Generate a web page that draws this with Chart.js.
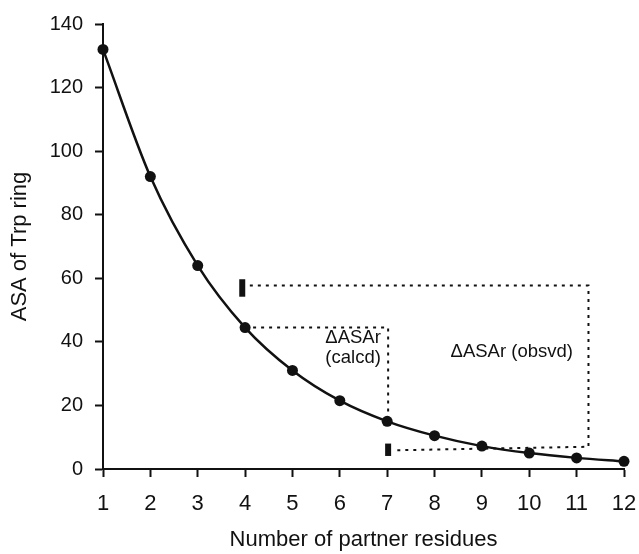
<!DOCTYPE html>
<html>
<head>
<meta charset="utf-8">
<script src="https://cdn.jsdelivr.net/npm/chart.js@4"></script>
<style>
  html, body { margin: 0; padding: 0; background: #fff; }
  #wrap { width: 639px; height: 554px; }
</style>
</head>
<body>
<div id="wrap"><canvas id="asaChart" width="639" height="554"></canvas></div>
<script>
// Données
const residues = [1, 2, 3, 4, 5, 6, 7, 8, 9, 10, 11, 12];
const asaValues = [132, 92, 64, 44.5, 31, 21.5, 15, 10.5, 7.2, 5, 3.5, 2.4];
const yTicks = [0, 20, 40, 60, 80, 100, 120, 140];

// Crochets pointillés (ΔASAr calculé / observé)
const calcdX = [4, 7.02, 7.02];
const calcdY = [44.5, 44.5, 15];
const obsvdX = [4.1, 11.25, 11.25, 7.2];
const obsvdY = [57.7, 57.7, 7, 5.9];

// Petits repères épais aux extrémités
const markTopX = [3.94, 3.94];
const markTopY = [54.2, 59.7];
const markLowX = [7.02, 7.02];
const markLowY = [4.1, 8.0];

// Étiquettes
const noteTexts = [['\u0394ASAr', '(calcd)'], ['\u0394ASAr (obsvd)']];
const noteX = [6.28, 9.63];
const noteY = [38, 36.7];

const FONT = '"Liberation Sans", Arial, sans-serif';
const INK = '#111';

function pts(xs, ys) {
  return xs.map(function (x, i) { return { x: x, y: ys[i] }; });
}

const notesPlugin = {
  id: 'notes',
  afterDatasetsDraw: function (chart) {
    const c = chart.ctx;
    const sx = chart.scales.x, sy = chart.scales.y;
    c.save();
    c.fillStyle = INK;
    c.font = '18.5px ' + FONT;
    c.textAlign = 'center';
    c.textBaseline = 'middle';
    noteTexts.forEach(function (lines, i) {
      const px = sx.getPixelForValue(noteX[i]);
      const py = sy.getPixelForValue(noteY[i]);
      const lh = 20;
      const y0 = py - (lines.length - 1) * lh / 2;
      lines.forEach(function (t, k) { c.fillText(t, px, y0 + k * lh); });
    });
    c.restore();
  }
};

const dotted = {
  borderColor: INK, borderWidth: 2, borderDash: [3, 5],
  pointRadius: 0, fill: false, tension: 0, clip: false
};
const thick = {
  borderColor: INK, borderWidth: 6, borderCapStyle: 'butt',
  pointRadius: 0, fill: false, tension: 0, clip: false
};

new Chart(document.getElementById('asaChart'), {
  type: 'line',
  data: {
    datasets: [
      Object.assign({ data: pts(calcdX, calcdY) }, dotted),
      Object.assign({ data: pts(obsvdX, obsvdY) }, dotted),
      Object.assign({ data: pts(markTopX, markTopY) }, thick),
      Object.assign({ data: pts(markLowX, markLowY) }, thick),
      {
        label: 'ASA',
        data: pts(residues, asaValues),
        borderColor: INK,
        backgroundColor: INK,
        borderWidth: 2.5,
        pointRadius: 5.5,
        pointBackgroundColor: INK,
        pointBorderWidth: 0,
        cubicInterpolationMode: 'monotone',
        fill: false,
        clip: false
      }
    ]
  },
  options: {
    responsive: false,
    animation: false,
    layout: { padding: { top: 22, right: 3, left: 0, bottom: 0 } },
    plugins: {
      legend: { display: false },
      tooltip: { enabled: false }
    },
    scales: {
      x: {
        type: 'linear',
        min: 1,
        max: 12,
        afterBuildTicks: function (s) { s.ticks = residues.map(function (v) { return { value: v }; }); },
        afterFit: function (s) {
          s.height = 554 - 469;
          s.paddingLeft = 0;
          s.paddingRight = 15;
        },
        grid: { drawOnChartArea: false, drawTicks: true, tickLength: 8, tickWidth: 2, tickColor: INK },
        border: { color: INK, width: 2 },
        ticks: { color: INK, font: { family: FONT, size: 22 }, padding: 14, maxRotation: 0 },
        title: {
          display: true, text: 'Number of partner residues', color: INK,
          font: { family: FONT, size: 22 }, padding: { top: 4, bottom: 1 }
        }
      },
      y: {
        min: 0,
        max: 140,
        afterBuildTicks: function (s) { s.ticks = yTicks.map(function (v) { return { value: v }; }); },
        afterFit: function (s) { s.width = 103; },
        grid: { drawOnChartArea: false, drawTicks: true, tickLength: 8, tickWidth: 2, tickColor: INK },
        border: { color: INK, width: 2 },
        ticks: { color: INK, font: { family: FONT, size: 20 }, padding: 12 },
        title: {
          display: true, text: 'ASA of Trp ring', color: INK,
          font: { family: FONT, size: 22 }, padding: { top: 7, bottom: 4 }
        }
      }
    }
  },
  plugins: [notesPlugin]
});
</script>
</body>
</html>
